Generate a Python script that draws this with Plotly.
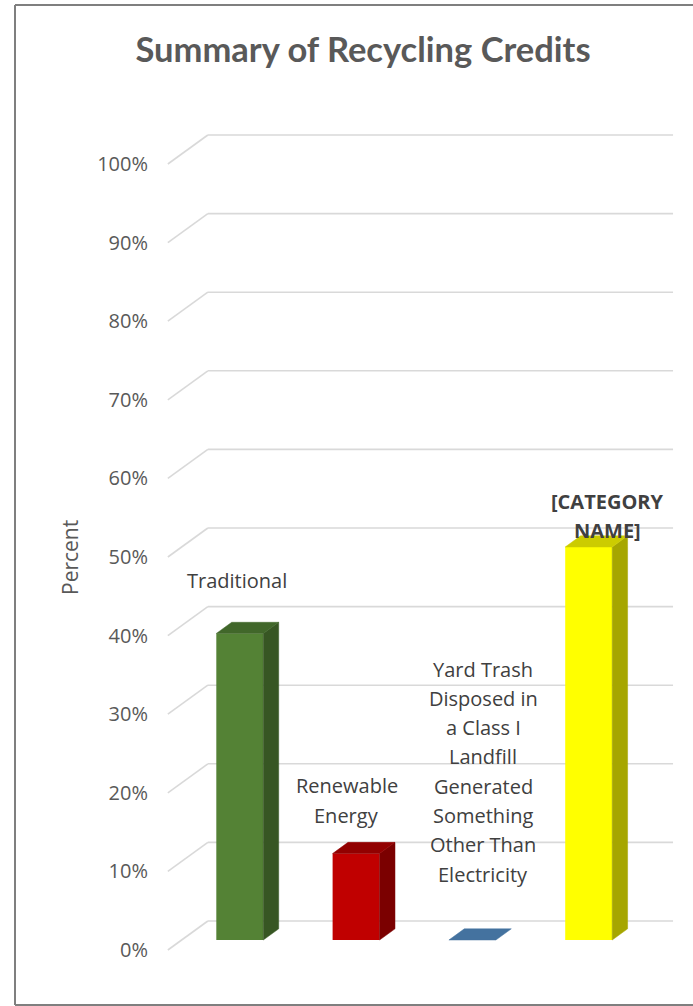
import plotly.graph_objects as go

# ---------------- data ----------------
categories = [
    "Traditional",
    "Renewable Energy",
    "Yard Trash Disposed in a Class I Landfill Generated Something Other Than Electricity",
    "[CATEGORY NAME]",
]
label_lines = [
    ["Traditional"],
    ["Renewable", "Energy"],
    ["Yard Trash", "Disposed in", "a Class I", "Landfill", "Generated", "Something", "Other Than", "Electricity"],
    ["<b>[CATEGORY</b>", "<b>NAME]</b>"],
]
values = [39, 11, 0, 50]          # percent
tick_values = [0, 10, 20, 30, 40, 50, 60, 70, 80, 90, 100]
tick_labels = [f"{v}%" for v in tick_values]

# ---------------- style ----------------
front_colors = ["#548235", "#c00000", "#4472a0", "#ffff00"]
side_colors = ["#375623", "#7b0000", "#2f5577", "#a6a600"]
top_colors = ["#41672a", "#920000", "#44729f", "#cccc00"]
grid_color = "#d9d9d9"
text_color = "#404040"
axis_text_color = "#595959"

W, H = 693, 1006
ML, MR, MT, MB = 160, 13, 120, 46
PX_PER_UNIT = 116.3
PX_PER_PCT = 7.86
X0_PX = 226.0          # screen x of category 0 (front plane)
Y0_PX = 950.0          # screen y of 0% (front plane)

x_range = [(ML - X0_PX) / PX_PER_UNIT, (W - MR - X0_PX) / PX_PER_UNIT]
y_range = [(Y0_PX - (H - MB)) / PX_PER_PCT, (Y0_PX - MT) / PX_PER_PCT]

DX = 40 / PX_PER_UNIT      # full depth, horizontal (category units)
DY = 29 / PX_PER_PCT       # full depth, vertical (percent units)
Z_FRONT = 0.345            # bar front plane depth
Z_DEPTH = 0.385            # bar depth
BAR_W = 0.404

# per-label placement (style)
label_dx = [0.095, 0.04, 0.21, 0.276]
label_dy = [7.95, 9.87, 35.75, 7.12]
LINE_PX = 29.3


def px_to_paper_x(px):
    return (px - ML) / (W - ML - MR)


def px_to_paper_y(py):
    return (H - MB - py) / (H - MT - MB)


fig = go.Figure()
shapes = []

# gridlines: side-wall diagonal + back wall line (below the bars)
for v in tick_values:
    shapes.append(dict(type="line", xref="x", yref="y", x0=-0.5, y0=v,
                       x1=-0.5 + DX, y1=v + DY, layer="below",
                       line=dict(color=grid_color, width=1.6)))
    shapes.append(dict(type="line", xref="x", yref="y", x0=-0.5 + DX, y0=v + DY,
                       x1=3.5 + DX, y1=v + DY, layer="below",
                       line=dict(color=grid_color, width=1.6)))

# front faces as real bars
fx = Z_FRONT * DX
fy = Z_FRONT * DY
bx = Z_DEPTH * DX
by = Z_DEPTH * DY
fig.add_trace(go.Bar(
    x=[i + fx for i in range(len(values))], y=values, base=fy, width=BAR_W,
    marker=dict(color=front_colors, line=dict(width=0)),
    hovertext=categories, hoverinfo="text+y", showlegend=False))

# side and top faces
for i, v in enumerate(values):
    xc = i + fx
    xl, xr = xc - BAR_W / 2, xc + BAR_W / 2
    y0, y1 = fy, fy + v
    if v > 0:
        fig.add_trace(go.Scatter(
            x=[xr, xr + bx, xr + bx, xr, xr], y=[y0, y0 + by, y1 + by, y1, y0],
            mode="lines", fill="toself", fillcolor=side_colors[i],
            line=dict(width=0.5, color=side_colors[i]), hoverinfo="skip", showlegend=False))
    fig.add_trace(go.Scatter(
        x=[xl, xr, xr + bx, xl + bx, xl], y=[y1, y1, y1 + by, y1 + by, y1],
        mode="lines", fill="toself", fillcolor=top_colors[i],
        line=dict(width=0.5, color=top_colors[i]), hoverinfo="skip", showlegend=False))

annotations = []
# data labels (category names)
for i, lines in enumerate(label_lines):
    for k, line in enumerate(lines):
        annotations.append(dict(
            x=i + label_dx[i], y=values[i] + label_dy[i], xref="x", yref="y",
            text=line, showarrow=False, xanchor="center", yanchor="middle",
            yshift=-k * LINE_PX,
            font=dict(family="Open Sans", size=20, color=text_color)))

# axis title
annotations.append(dict(
    x=px_to_paper_x(70), y=px_to_paper_y(558), xref="paper", yref="paper",
    text="Percent", textangle=-90, showarrow=False, xanchor="center", yanchor="middle",
    font=dict(family="Open Sans", size=21, color=axis_text_color)))

# chart frame: left, top, bottom (right edge is cut off in the reference)
bl, bt, bb, br = px_to_paper_x(15), px_to_paper_y(5), px_to_paper_y(1005), px_to_paper_x(W + 20)
frame = dict(color="#7f7f7f", width=2)
for (xa, ya, xb, yb) in [(bl, bb, bl, bt), (bl, bt, br, bt), (bl, bb, br, bb)]:
    shapes.append(dict(type="line", xref="paper", yref="paper", x0=xa, y0=ya,
                       x1=xb, y1=yb, line=frame, layer="above"))

fig.update_layout(
    width=W, height=H, autosize=False,
    margin=dict(l=ML, r=MR, t=MT, b=MB, pad=0),
    paper_bgcolor="white", plot_bgcolor="white",
    title=dict(text="<b>Summary of Recycling Credits</b>", x=363 / W, xanchor="center",
               y=1 - 50 / H, yanchor="middle", yref="container",
               font=dict(family="Lato", size=34.5, color=axis_text_color)),
    xaxis=dict(range=x_range, visible=False, fixedrange=True),
    yaxis=dict(range=y_range, tickvals=tick_values, ticktext=tick_labels,
               showgrid=False, zeroline=False, showline=False, ticks="",
               ticklabelstandoff=11,
               tickfont=dict(family="Open Sans", size=20, color=axis_text_color),
               fixedrange=True),
    annotations=annotations,
    shapes=shapes,
)

fig.write_html("out.html", config={"displayModeBar": False},
               post_script="document.body.style.margin='0px';document.body.style.overflow='hidden';")
